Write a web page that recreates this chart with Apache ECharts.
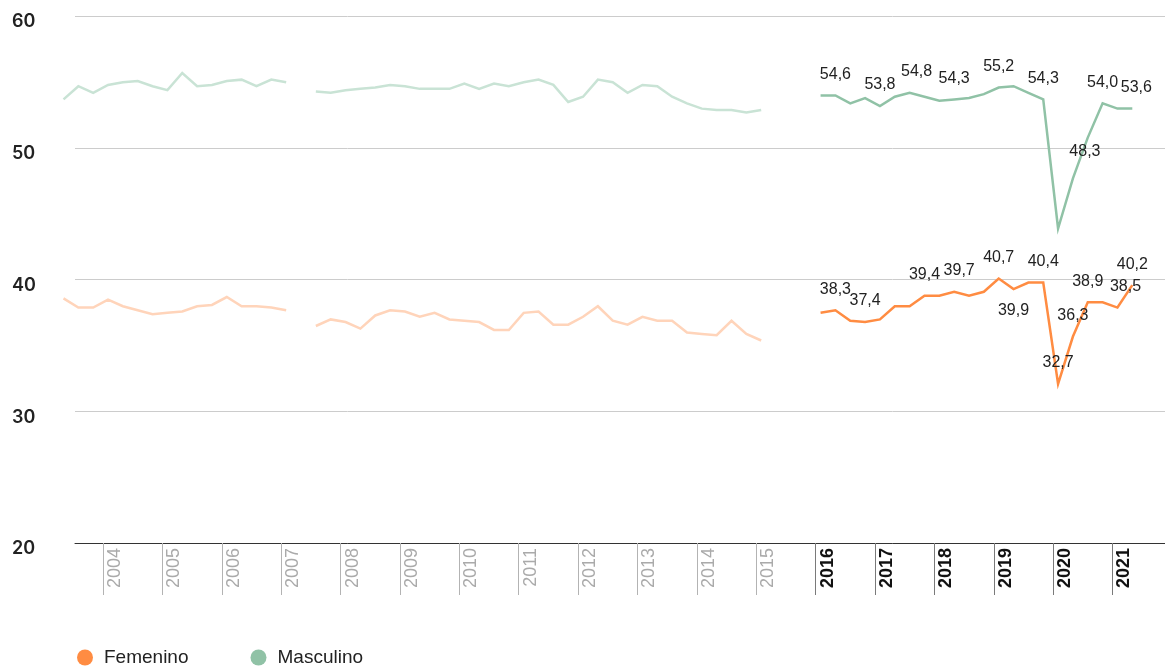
<!DOCTYPE html>
<html>
<head>
<meta charset="utf-8">
<script src="https://cdn.jsdelivr.net/npm/echarts@6.0.0/dist/echarts.min.js"></script>
<style>
  html, body { margin: 0; padding: 0; background: #fff; }
  #chart { width: 1165px; height: 666px; }
</style>
</head>
<body>
<div id="chart"></div>
<script>
  // trimestres: cada punto se ubica al inicio del mes central del trimestre
  const quarters = (year, q, count) => {
    const out = [];
    for (let i = 0; i < count; i++) {
      const y = year + Math.floor((q - 1 + i) / 4);
      const qq = ((q - 1 + i) % 4) + 1;
      out.push({ year: y, q: qq, x: y + (qq - 1) / 4 + 1 / 12 });
    }
    return out;
  };

  const periodsA = quarters(2003, 2, 16);   // 2003T2 - 2007T1
  const gapA = quarters(2007, 2, 1);        // sin dato
  const periodsB = quarters(2007, 3, 31);   // 2007T3 - 2015T1
  const periodsC = quarters(2016, 1, 22);   // 2016T1 - 2021T2

  const yearTicksOld = [2004, 2005, 2006, 2007, 2008, 2009, 2010, 2011, 2012, 2013, 2014, 2015];
  const yearTicksNew = [2016, 2017, 2018, 2019, 2020, 2021];

  const femeninoA = [39.2, 38.5, 38.5, 39.1, 38.6, 38.3, 38.0, 38.1, 38.2, 38.6, 38.7, 39.3, 38.6, 38.6, 38.5, 38.3];
  const masculinoA = [54.3, 55.3, 54.8, 55.4, 55.6, 55.7, 55.3, 55.0, 56.3, 55.3, 55.4, 55.7, 55.8, 55.3, 55.8, 55.6];

  const femeninoB = [37.1, 37.6, 37.4, 36.9, 37.9, 38.3, 38.2, 37.8, 38.1, 37.6, 37.5, 37.4, 36.8, 36.8, 38.1, 38.2,
    37.2, 37.2, 37.8, 38.6, 37.5, 37.2, 37.8, 37.5, 37.5, 36.6, 36.5, 36.4, 37.5, 36.5, 36.0];
  const masculinoB = [54.9, 54.8, 55.0, 55.1, 55.2, 55.4, 55.3, 55.1, 55.1, 55.1, 55.5, 55.1, 55.5, 55.3, 55.6, 55.8,
    55.4, 54.1, 54.5, 55.8, 55.6, 54.8, 55.4, 55.3, 54.5, 54.0, 53.6, 53.5, 53.5, 53.3, 53.5];

  const femeninoC = [38.1, 38.3, 37.5, 37.4, 37.6, 38.6, 38.6, 39.4, 39.4, 39.7, 39.4, 39.7, 40.7, 39.9, 40.4, 40.4,
    32.7, 36.3, 38.9, 38.9, 38.5, 40.2];
  const masculinoC = [54.6, 54.6, 54.0, 54.4, 53.8, 54.5, 54.8, 54.5, 54.2, 54.3, 54.4, 54.7, 55.2, 55.3, 54.8, 54.3,
    44.5, 48.3, 51.4, 54.0, 53.6, 53.6];

  // puntos rotulados
  const femeninoLabelIdx = [1, 3, 7, 9, 12, 13, 15, 16, 17, 18, 20, 21];
  const masculinoLabelIdx = [1, 4, 6, 9, 12, 15, 17, 19, 21];

  const femeninoLabelTweaks = { 9: { offset: [5, 0] }, 13: { position: 'bottom' }, 20: { offset: [8, 0] } };
  const masculinoLabelTweaks = { 6: { offset: [7, 0] }, 17: { offset: [12, -6] }, 21: { offset: [4, 0] } };

  const toPts = (periods, values) => periods.map((p, i) => [p.x, values[i]]);
  const withLabels = (pts, idx, tweaks) => pts.map((pt, i) =>
    idx.includes(i) ? { value: pt, label: Object.assign({ show: true }, tweaks[i] || {}) } : pt);

  const femeninoOld = [...toPts(periodsA, femeninoA), [gapA[0].x, '-'], ...toPts(periodsB, femeninoB)];
  const masculinoOld = [...toPts(periodsA, masculinoA), [gapA[0].x, '-'], ...toPts(periodsB, masculinoB)];
  const femeninoNew = withLabels(toPts(periodsC, femeninoC), femeninoLabelIdx, femeninoLabelTweaks);
  const masculinoNew = withLabels(toPts(periodsC, masculinoC), masculinoLabelIdx, masculinoLabelTweaks);

  const ORANGE = '#ff8c42', ORANGE_SOFT = '#ffd4ba';
  const GREEN = '#90c2a6', GREEN_SOFT = '#c9e3d5';

  const X_MAX = 2021.884;
  const chart = echarts.init(document.getElementById('chart'));

  const yearLabel = {
    rotate: 90, align: 'right', verticalAlign: 'top', margin: 5, padding: [3, 0, 0, 0],
    fontSize: 18, fontFamily: 'Liberation Sans',
    formatter: v => String(v)
  };

  const dataLabel = {
    show: false, position: 'top', distance: 13,
    fontSize: 16, fontFamily: 'Liberation Sans', color: '#222',
    formatter: p => p.value[1].toFixed(1).replace('.', ',')
  };

  // las series van en una segunda grilla (oculta) que empieza en el primer trimestre,
  // con la misma escala horizontal que la grilla visible
  const lineSeries = (name, data, color, extra) => Object.assign({
    name, type: 'line', data, xAxisIndex: 2, yAxisIndex: 1,
    showSymbol: true, symbol: 'circle', symbolSize: 0, silent: true,
    lineStyle: { color, width: 2.5, join: 'miter' },
    itemStyle: { color },
    emphasis: { disabled: true }
  }, extra || {});

  chart.setOption({
    animation: false,
    grid: [
      { left: 75, right: 0, top: 16, bottom: 123 },
      { left: 63.5, right: 0, top: 16, bottom: 123 }
    ],
    legend: {
      data: ['Femenino', 'Masculino'],
      left: 72, top: 643,
      icon: 'circle', itemWidth: 16, itemHeight: 16, itemGap: 62,
      textStyle: { fontSize: 19, fontFamily: 'Liberation Sans', color: '#222', padding: [0, 0, 0, 6] }
    },
    xAxis: [
      {
        type: 'value', gridIndex: 0, min: 2003.527, max: X_MAX, splitLine: { show: false },
        axisLine: { lineStyle: { color: '#333', width: 1 } },
        axisTick: { customValues: yearTicksOld, length: 52, lineStyle: { color: '#b3b3b3', width: 1 } },
        axisLabel: Object.assign({ customValues: yearTicksOld, color: '#aaaaaa' }, yearLabel)
      },
      {
        type: 'value', gridIndex: 0, min: 2003.527, max: X_MAX, splitLine: { show: false },
        position: 'bottom',
        axisLine: { show: false },
        axisTick: { customValues: yearTicksNew, length: 52, lineStyle: { color: '#7a7a7a', width: 1 } },
        axisLabel: Object.assign({ customValues: yearTicksNew, color: '#111', fontWeight: 'bold' }, yearLabel)
      },
      { type: 'value', gridIndex: 1, min: periodsA[0].x, max: X_MAX, show: false }
    ],
    yAxis: [
      {
        type: 'value', gridIndex: 0, min: 20, max: 60, interval: 10,
        axisLine: { show: false }, axisTick: { show: false },
        splitLine: { lineStyle: { color: '#cccccc', width: 1 } },
        axisLabel: {
          align: 'left', verticalAlign: 'top', margin: 63, lineHeight: 12,
          fontSize: 18, fontWeight: 600, fontFamily: 'Inter', color: '#222'
        }
      },
      // escala de las líneas: el original dibuja las series algo por debajo de la grilla
      { type: 'value', gridIndex: 1, min: 20.63, max: 60.63, show: false }
    ],
    series: [
      lineSeries('Femenino 2003-2015', femeninoOld, ORANGE_SOFT),
      lineSeries('Masculino 2003-2015', masculinoOld, GREEN_SOFT),
      lineSeries('Femenino', femeninoNew, ORANGE, { label: dataLabel, z: 3 }),
      lineSeries('Masculino', masculinoNew, GREEN, { label: dataLabel, z: 3 })
    ]
  });
</script>
</body>
</html>
